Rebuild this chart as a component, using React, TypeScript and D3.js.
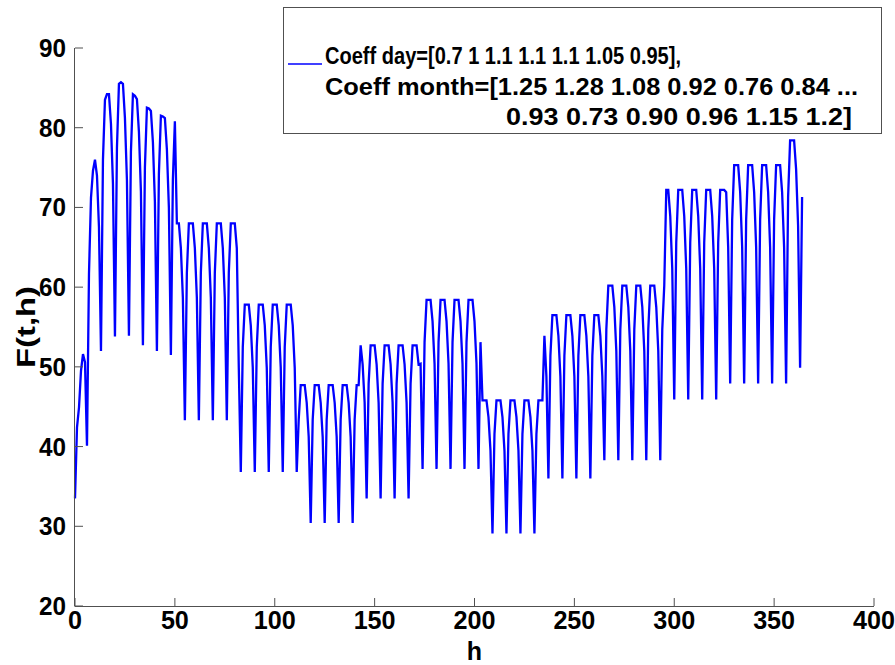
import React from "react";
import * as d3 from "d3";

// Daily values F(t,h), h = 0..364, grouped by month block
const jan = [
  33.5, 42.4, 44.9, 49.5, 51.6, 50.6, 40.1,
  61.7, 71.2, 74.6, 76.0, 74.0, 67.5, 52.0,
  76.0, 83.5, 84.2, 84.2, 80.5, 73.0, 53.8,
  77.5, 85.5,
];
const feb = [
  85.7, 85.5, 81.2, 73.4, 53.9,
  77.0, 84.2, 84.0, 83.6, 79.5, 72.0, 52.7,
  75.0, 82.5, 82.4, 82.1, 78.2, 70.7, 52.0,
  74.2, 81.5, 81.4, 81.2, 77.3, 70.0, 51.5,
  73.5, 80.8,
];
const mar = [
  68.0, 68.0, 64.9, 58.7, 43.3,
  61.8, 68.0, 68.0, 68.0, 64.9, 58.7, 43.3,
  61.8, 68.0, 68.0, 68.0, 64.9, 58.7, 43.3,
  61.8, 68.0, 68.0, 68.0, 64.9, 58.7, 43.3,
  61.8, 68.0, 68.0, 68.0, 64.9,
];
const apr = [
  49.9, 36.8,
  52.5, 57.8, 57.8, 57.8, 55.2, 49.9, 36.8,
  52.5, 57.8, 57.8, 57.8, 55.2, 49.9, 36.8,
  52.5, 57.8, 57.8, 57.8, 55.2, 49.9, 36.8,
  52.5, 57.8, 57.8, 57.8, 55.2, 49.9, 36.8,
];
const may = [
  43.4, 47.7, 47.7, 47.7, 45.5, 41.2, 30.4,
  43.4, 47.7, 47.7, 47.7, 45.5, 41.2, 30.4,
  43.4, 47.7, 47.7, 47.7, 45.5, 41.2, 30.4,
  43.4, 47.7, 47.7, 47.7, 45.5, 41.2, 30.4,
  43.4, 47.7, 47.7,
];
const jun = [
  52.7, 50.3, 45.5, 33.5,
  47.9, 52.7, 52.7, 52.7, 50.3, 45.5, 33.5,
  47.9, 52.7, 52.7, 52.7, 50.3, 45.5, 33.5,
  47.9, 52.7, 52.7, 52.7, 50.3, 45.5, 33.5,
  47.9, 52.7, 52.7, 52.7, 50.3,
];
const jul = [
  50.4, 37.2,
  53.1, 58.4, 58.4, 58.4, 55.7, 50.4, 37.2,
  53.1, 58.4, 58.4, 58.4, 55.7, 50.4, 37.2,
  53.1, 58.4, 58.4, 58.4, 55.7, 50.4, 37.2,
  53.1, 58.4, 58.4, 58.4, 55.7, 50.4, 37.2,
  53.1,
];
const aug = [
  45.8, 45.8, 45.8, 43.7, 39.5, 29.1,
  41.6, 45.8, 45.8, 45.8, 43.7, 39.5, 29.1,
  41.6, 45.8, 45.8, 45.8, 43.7, 39.5, 29.1,
  41.6, 45.8, 45.8, 45.8, 43.7, 39.5, 29.1,
  41.6, 45.8, 45.8, 45.8,
];
const sep = [
  53.9, 48.8, 36.0,
  51.4, 56.5, 56.5, 56.5, 53.9, 48.8, 36.0,
  51.4, 56.5, 56.5, 56.5, 53.9, 48.8, 36.0,
  51.4, 56.5, 56.5, 56.5, 53.9, 48.8, 36.0,
  51.4, 56.5, 56.5, 56.5, 53.9, 48.8,
];
const oct = [
  38.3,
  54.7, 60.2, 60.2, 60.2, 57.5, 52.0, 38.3,
  54.7, 60.2, 60.2, 60.2, 57.5, 52.0, 38.3,
  54.7, 60.2, 60.2, 60.2, 57.5, 52.0, 38.3,
  54.7, 60.2, 60.2, 60.2, 57.5, 52.0, 38.3,
  54.7, 60.2,
];
const nov = [
  72.2, 72.2, 68.9, 62.3, 45.9,
  65.6, 72.2, 72.2, 72.2, 68.9, 62.3, 45.9,
  65.6, 72.2, 72.2, 72.2, 68.9, 62.3, 45.9,
  65.6, 72.2, 72.2, 72.2, 68.9, 62.3, 45.9,
  65.6, 72.2, 72.2, 72.2,
];
const dec = [
  71.9, 65.0, 47.9,
  68.5, 75.3, 75.3, 75.3, 71.9, 65.0, 47.9,
  68.5, 75.3, 75.3, 75.3, 71.9, 65.0, 47.9,
  68.5, 75.3, 75.3, 75.3, 71.9, 65.0, 47.9,
  68.5, 75.3, 75.3, 75.3, 71.9, 65.0, 47.9,
];
const janNext = [71.3, 78.4, 78.4, 78.4, 74.8, 67.7, 49.9, 71.3];

const xTicks = [0, 50, 100, 150, 200, 250, 300, 350, 400];
const yTicks = [20, 30, 40, 50, 60, 70, 80, 90];
const legendLines = [
  "Coeff day=[0.7 1 1.1 1.1 1.1 1.05 0.95],",
  "Coeff month=[1.25 1.28 1.08 0.92 0.76 0.84 ...",
  "0.93 0.73 0.90 0.96 1.15 1.2]",
];

const series = [
  ...jan, ...feb, ...mar, ...apr, ...may, ...jun,
  ...jul, ...aug, ...sep, ...oct, ...nov, ...dec, ...janNext,
];

const FONT = "'Liberation Sans', Arial, Helvetica, sans-serif";

export default function App() {
  const W = 895;
  const H = 665;
  const x = d3.scaleLinear().domain([0, 400]).range([75, 874]);
  const y = d3.scaleLinear().domain([20, 90]).range([606, 48]);
  const line = d3
    .line<number>()
    .x((_, i) => x(i))
    .y((d) => y(d));

  const axisColor = "#505050";
  const tickLen = 8;

  return (
    <svg
      width={W}
      height={H}
      style={{ position: "absolute", left: 0, top: 0, background: "#fff" }}
      fontFamily={FONT}
    >
      <rect x={0} y={0} width={W} height={H} fill="#fff" />
      {/* data line */}
      <path d={line(series) || ""} fill="none" stroke="#0000ff" strokeWidth={2.3} strokeLinejoin="miter" />

      {/* axes */}
      <line x1={x(0)} x2={x(400)} y1={y(20) + 0.5} y2={y(20) + 0.5} stroke={axisColor} strokeWidth={1} />
      <line x1={x(0) - 0.5} x2={x(0) - 0.5} y1={y(20) + 0.5} y2={y(90)} stroke={axisColor} strokeWidth={1} />
      {xTicks.map((t) => (
        <g key={"xt" + t}>
          <line x1={x(t)} x2={x(t)} y1={y(20)} y2={y(20) - tickLen} stroke={axisColor} />
          <text
            x={x(t)}
            y={629}
            textAnchor="middle"
            fontWeight="bold"
            fontSize={25}
            textLength={String(t).length * 14}
            lengthAdjust="spacingAndGlyphs"
          >
            {t}
          </text>
        </g>
      ))}
      {yTicks.map((t) => (
        <g key={"yt" + t}>
          <line x1={x(0)} x2={x(0) + tickLen} y1={y(t)} y2={y(t)} stroke={axisColor} />
          <text
            x={66}
            y={y(t) + 9}
            textAnchor="end"
            fontWeight="bold"
            fontSize={26}
            textLength={String(t).length * 13.5}
            lengthAdjust="spacingAndGlyphs"
          >
            {t}
          </text>
        </g>
      ))}
      <text x={(x(0) + x(400)) / 2} y={660} textAnchor="middle" fontWeight="bold" fontSize={25}>
        h
      </text>
      <text
        transform={`translate(35, ${(y(20) + y(90)) / 2}) rotate(-90)`}
        textAnchor="middle"
        fontWeight="bold"
        fontSize={25}
        textLength={82}
        lengthAdjust="spacingAndGlyphs"
      >
        F(t,h)
      </text>

      {/* legend */}
      <rect x={283.5} y={7.5} width={598} height={126} fill="#fff" stroke={axisColor} strokeWidth={1} />
      <line x1={288} x2={322} y1={64} y2={64} stroke="#0000ff" strokeWidth={1.5} />
      <text x={325} y={64} fontWeight="bold" fontSize={24} textLength={356} lengthAdjust="spacingAndGlyphs">
        {legendLines[0]}
      </text>
      <text x={325} y={95} fontWeight="bold" fontSize={24} textLength={533} lengthAdjust="spacingAndGlyphs">
        {legendLines[1]}
      </text>
      <text x={506} y={125} fontWeight="bold" fontSize={24} textLength={346} lengthAdjust="spacingAndGlyphs">
        {legendLines[2]}
      </text>
    </svg>
  );
}
